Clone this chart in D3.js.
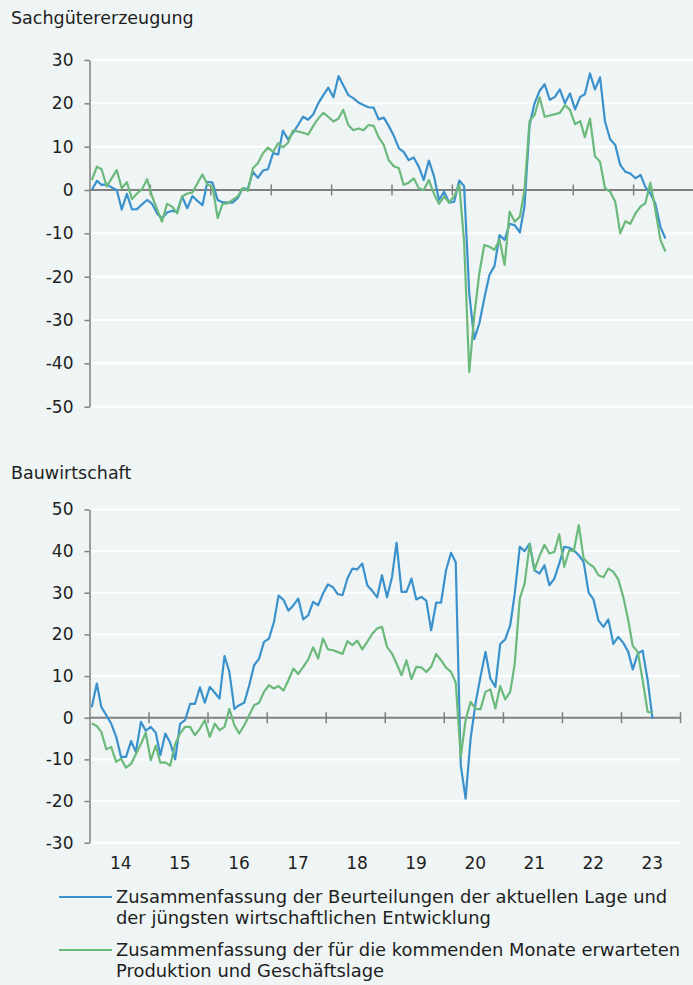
<!DOCTYPE html>
<html>
<head>
<meta charset="utf-8">
<script src="https://cdn.jsdelivr.net/npm/d3@7"></script>
<style>
  body { margin: 0; background: #eff5f5; }
  svg { display: block; font-family: "DejaVu Sans", sans-serif; }
</style>
</head>
<body>
<div id="chart"></div>
<script>
// Monatswerte ab Jänner 2014
const startYear = 2014;

const sachLage = [
  0, 2.1, 1.2, 1.3, 0.6, 0, -4.5, -0.9, -4.5, -4.4, -3.3, -2.3,
  -3.2, -5.5, -6.5, -5.2, -4.8, -5, -1.5, -4.2, -1.4, -2.5, -3.5, 1.9,
  1.7, -2.3, -2.8, -2.9, -2.9, -1.9, 0.4, 0.2, 4.2, 2.8, 4.5, 4.8,
  8.5, 8.2, 13.7, 11.7, 13.2, 15, 16.9, 16.2, 17.5, 20, 21.9, 23.6,
  21.4, 26.3, 24.2, 21.9, 21.2, 20.2, 19.6, 19.1, 19, 16.3, 16.7, 14.8,
  12.5, 9.6, 8.8, 6.9, 7.5, 5.4, 2.3, 6.8, 3.2, -2.3, -0.4, -2.9,
  -2.7, 2.2, 0.9, -23.8, -34.4, -30.8, -25, -19.6, -17.5, -10.4, -11.5, -7.8,
  -8.1, -9.8, -3.8, 15, 20, 22.9, 24.4, 20.8, 21.5, 23.2, 20, 22.3,
  18.6, 21.5, 22.1, 26.9, 23.2, 26, 15.8, 11.7, 10.4, 5.8, 4.2, 3.8,
  2.7, 3.5, 0.8, -0.8, -3.1, -8.5, -11.2
];
const sachErwartung = [
  2.3, 5.4, 4.8, 0.8, 2.7, 4.6, 0.4, 1.8, -2.1, -0.8, 0.2, 2.5,
  -1.5, -4.6, -7.3, -3.2, -3.8, -5.4, -1.5, -0.8, -0.6, 1.5, 3.6, 1.2,
  0.8, -6.5, -3.2, -3.1, -2.3, -1.5, 0.4, -0.2, 5, 6.2, 8.5, 9.8,
  8.8, 10.8, 9.8, 10.9, 13.7, 13.5, 13.2, 12.8, 14.8, 16.5, 17.8, 16.9,
  15.8, 16.5, 18.5, 15, 13.8, 14.2, 13.8, 15, 14.8, 12.2, 10.4, 6.9,
  5.5, 5, 1.2, 1.7, 2.7, 0.4, 0, 2.3, -0.9, -3.2, -1.5, -2.9,
  -1.5, 1.2, -12, -42, -29.2, -19.2, -12.7, -13.1, -13.8, -11.4, -17.3, -5,
  -7.3, -6.2, 0, 16, 17.3, 21.4, 16.9, 17.2, 17.5, 17.8, 19.6, 18.5,
  15.2, 15.9, 12.2, 16.5, 7.8, 6.5, 0.4, -0.4, -2.7, -10, -7.2, -7.8,
  -5.4, -3.8, -3.1, 1.7, -4.5, -11.5, -14.2
];
const bauLage = [
  2.5, 8.2, 2.6, 0.6, -1.4, -4.6, -9.4, -9.4, -5.6, -8.2, -1, -3.1,
  -2.2, -3.6, -9, -3.8, -6, -10, -1.5, -0.6, 3.3, 3.3, 7.3, 3.6,
  7.4, 6, 4.6, 14.8, 11, 2.1, 3, 3.6, 7.8, 12.6, 14.2, 18.2,
  19, 23, 29.3, 28.3, 25.7, 27, 28.6, 23.6, 24.6, 27.8, 27, 29.8,
  32, 31.3, 29.7, 29.4, 33.4, 35.8, 35.6, 37, 31.8, 30.5, 28.9, 34.2,
  28.9, 33.8, 42, 30.2, 30.2, 33.4, 28.4, 29, 28.1, 21, 27.6, 27.6,
  35.4, 39.6, 37.3, -11.4, -19.4, -5, 3.4, 9.8, 15.8, 9.4, 7.4, 17.7,
  18.8, 22.2, 29.8, 41, 40, 41.8, 35.4, 34.6, 36.6, 31.8, 33.4, 37,
  41, 40.8, 40.2, 39, 37.4, 30, 28.4, 23.3, 21.8, 23.6, 17.7, 19.4,
  18, 15.8, 11.6, 15.4, 16.1, 9, -0.2
];
const bauErwartung = [
  -1.4, -2, -3.4, -7.6, -7, -10.6, -9.8, -12, -11.1, -8.7, -6.3, -3.6,
  -10.2, -6.7, -10.8, -10.7, -11.5, -6.3, -3.8, -2.2, -2.2, -4.2, -2.6, -0.6,
  -4.6, -1.4, -3, -2.2, 2.1, -1.8, -3.8, -1.8, 0.6, 3, 3.6, 6.2,
  7.8, 7, 7.6, 6.5, 9, 11.8, 10.5, 12.2, 14, 16.9, 14.2, 19,
  16.4, 16.2, 15.8, 15.3, 18.4, 17.4, 18.5, 16.4, 18.2, 20.1, 21.4, 21.8,
  17, 15.4, 13, 10.2, 13.8, 9.3, 12.2, 12.1, 11, 12.2, 15.3, 13.8,
  12, 11, 8.4, -9.4, -0.6, 3.8, 2.2, 2, 6.2, 6.8, 2.2, 7.6,
  4.4, 6.2, 13, 28.6, 32.2, 41.6, 35.4, 38.8, 41.5, 39.4, 39.8, 44,
  36.2, 40.2, 40, 46.2, 38.2, 37, 36.2, 34.2, 33.7, 35.8, 35, 33.2,
  29, 23.4, 17.2, 15.8, 9, 1.4, 1.2
];

const yearLabels = ["14", "15", "16", "17", "18", "19", "20", "21", "22", "23"];
const sachTicks = [30, 20, 10, 0, -10, -20, -30, -40, -50];
const bauTicks = [50, 40, 30, 20, 10, 0, -10, -20, -30];
const legendLabels = [
  ["Zusammenfassung der Beurteilungen der aktuellen Lage und", "der jüngsten wirtschaftlichen Entwicklung"],
  ["Zusammenfassung der für die kommenden Monate erwarteten", "Produktion und Geschäftslage"]
];
const colors = ["#3b91cc", "#6cb97c"];

const width = 693, height = 985;
const axisX = 89.5;
const gray = "#808080";
const textColor = "#1e1e1e";

const svg = d3.select("#chart").append("svg")
  .attr("width", width)
  .attr("height", height);

svg.append("rect").attr("width", width).attr("height", height).attr("fill", "#eff5f5");

const months = d3.range(sachLage.length).map(i => new Date(startYear, i, 15));

function drawPanel(cfg) {
  const g = svg.append("g");

  const x = d3.scaleTime()
    .domain([new Date(2014, 0, 1), new Date(2024, 0, 1)])
    .range([axisX, cfg.right]);
  const y = d3.scaleLinear()
    .domain(d3.extent(cfg.ticks))
    .range([cfg.bottom, cfg.top]);

  g.append("text")
    .attr("x", 11)
    .attr("y", cfg.titleY)
    .attr("font-size", 17.5)
    .attr("fill", textColor)
    .text(cfg.title);

  // white gridlines
  g.selectAll(".grid")
    .data(cfg.ticks.filter(t => t !== 0))
    .enter().append("line")
    .attr("x1", axisX).attr("x2", cfg.right)
    .attr("y1", d => y(d)).attr("y2", d => y(d))
    .attr("stroke", "#fff")
    .attr("stroke-width", 2);

  // y axis
  const yAxis = g.append("g")
    .attr("transform", `translate(${axisX},0)`)
    .call(d3.axisLeft(y)
      .tickValues(cfg.ticks)
      .tickFormat(d => String(d))
      .tickSize(5)
      .tickPadding(11)
      .tickSizeOuter(0));
  yAxis.select(".domain").attr("stroke", gray).attr("stroke-width", 1.5);
  yAxis.selectAll(".tick line").attr("stroke", gray).attr("stroke-width", 1.5);
  yAxis.selectAll(".tick text")
    .attr("font-size", 17)
    .attr("font-family", "DejaVu Sans, sans-serif")
    .attr("fill", textColor);

  // zero line with year ticks
  const xAxis = g.append("g")
    .attr("transform", `translate(0,${y(0) - 5.5})`)
    .call(d3.axisBottom(x)
      .tickValues(d3.timeYear.range(new Date(2015, 0, 1), new Date(2024, 0, 2)))
      .tickSize(11)
      .tickFormat(""));
  xAxis.select(".domain").remove();
  xAxis.selectAll(".tick line").attr("stroke", gray).attr("stroke-width", 1.5);

  g.append("line")
    .attr("x1", axisX).attr("x2", cfg.right)
    .attr("y1", y(0)).attr("y2", y(0))
    .attr("stroke", gray)
    .attr("stroke-width", 2);

  const line = d3.line()
    .x((d, i) => x(months[i]))
    .y(d => y(d));

  cfg.series.forEach((s, j) => {
    g.append("path")
      .datum(s)
      .attr("fill", "none")
      .attr("stroke", colors[j])
      .attr("stroke-width", 2.2)
      .attr("stroke-linejoin", "round")
      .attr("d", line);
  });

  if (cfg.years) {
    g.selectAll(".year")
      .data(yearLabels)
      .enter().append("text")
      .attr("x", (d, i) => x(new Date(2014 + i, 6, 1)) + 2)
      .attr("y", cfg.bottom + 26)
      .attr("text-anchor", "middle")
      .attr("font-size", 17)
      .attr("fill", textColor)
      .text(d => d);
  }
}

drawPanel({
  title: "Sachgütererzeugung",
  titleY: 24,
  ticks: sachTicks,
  top: 60,
  bottom: 406.7,
  right: 693.5,
  series: [sachLage, sachErwartung],
  years: false
});

drawPanel({
  title: "Bauwirtschaft",
  titleY: 479,
  ticks: bauTicks,
  top: 509.4,
  bottom: 842.7,
  right: 680,
  series: [bauLage, bauErwartung],
  years: true
});

// legend
const legend = svg.append("g");
legendLabels.forEach((lines, j) => {
  const ly = 897 + j * 53;
  legend.append("line")
    .attr("x1", 59).attr("x2", 112)
    .attr("y1", ly).attr("y2", ly)
    .attr("stroke", colors[j])
    .attr("stroke-width", 2);
  lines.forEach((t, k) => {
    legend.append("text")
      .attr("x", 116)
      .attr("y", ly + k * 20.5)
      .attr("dy", "0.35em")
      .attr("font-size", 17.9)
      .attr("fill", textColor)
      .text(t);
  });
});
</script>
</body>
</html>
